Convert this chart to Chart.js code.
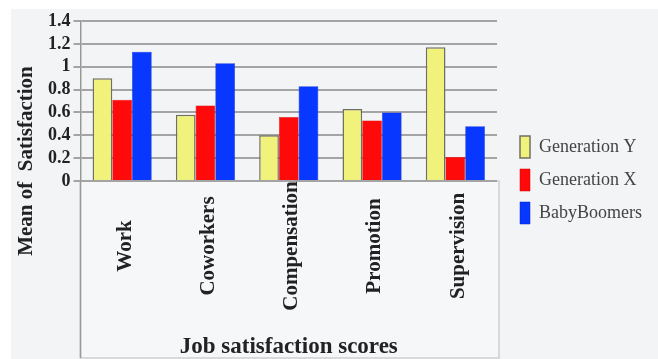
<!DOCTYPE html>
<html>
<head>
<meta charset="utf-8">
<script src="https://cdn.jsdelivr.net/npm/chart.js@4/dist/chart.umd.min.js"></script>
<style>
  html, body { margin: 0; padding: 0; background: #fff; }
  #wrap { width: 658px; height: 359px; }
</style>
</head>
<body>
<div id="wrap"><canvas id="chart" width="658" height="359"></canvas></div>
<script>
const categories = ['Work', 'Coworkers', 'Compensation', 'Promotion', 'Supervision'];
const generationY = [0.90, 0.58, 0.40, 0.63, 1.17];
const generationX = [0.71, 0.66, 0.56, 0.53, 0.21];
const babyBoomers = [1.13, 1.03, 0.83, 0.60, 0.48];
const yTicks = [0, 0.2, 0.4, 0.6, 0.8, 1, 1.2, 1.4];

const serif = '"Liberation Serif", "Times New Roman", serif';

// grey panel, the box under the plot, the y title and the centred category labels
const extras = {
  id: 'extras',
  beforeDraw(chart) {
    const { ctx, chartArea } = chart;
    ctx.save();
    ctx.fillStyle = '#f3f4f6';
    ctx.fillRect(11, 9, 647, 350);
    ctx.fillStyle = '#f6f7f9';
    ctx.fillRect(chartArea.left, chartArea.bottom, chartArea.right + 2 - chartArea.left, 358 - chartArea.bottom);
    ctx.strokeStyle = '#cfcfcf';
    ctx.lineWidth = 1.5;
    ctx.strokeRect(chartArea.left, chartArea.bottom, chartArea.right + 2 - chartArea.left, 358 - chartArea.bottom);
    ctx.strokeStyle = '#999';
    ctx.beginPath();
    ctx.moveTo(chartArea.left, chartArea.bottom);
    ctx.lineTo(chartArea.left, 358);
    ctx.stroke();
    ctx.restore();
  },
  afterDraw(chart) {
    const { ctx } = chart;
    const x = chart.scales.x;
    ctx.save();
    ctx.fillStyle = '#222';
    ctx.textAlign = 'center';
    ctx.textBaseline = 'middle';
    ctx.font = 'bold 21px ' + serif;
    categories.forEach((c, i) => {
      ctx.save();
      ctx.translate(x.getPixelForTick(i) + 3, 246);
      ctx.rotate(-Math.PI / 2);
      ctx.fillText(c, 0, 0);
      ctx.restore();
    });
    ctx.translate(27, 161);
    ctx.rotate(-Math.PI / 2);
    ctx.font = 'bold 21px ' + serif;
    ctx.fillText('Mean of  Satisfaction', 0, 0);
    ctx.restore();
  }
};

new Chart(document.getElementById('chart'), {
  type: 'bar',
  data: {
    labels: categories,
    datasets: [
      { label: 'Generation Y', data: generationY, backgroundColor: '#f0f27c', borderColor: '#707062', borderWidth: 1.5 },
      { label: 'Generation X', data: generationX, backgroundColor: '#ff0a0a', borderColor: '#d00000', borderWidth: 0.5 },
      { label: 'BabyBoomers', data: babyBoomers, backgroundColor: '#0838ff', borderColor: '#0024c0', borderWidth: 0.5 }
    ]
  },
  options: {
    responsive: false,
    animation: false,
    layout: { padding: { left: 45, top: 21, right: 6, bottom: 20 } },
    datasets: { bar: { categoryPercentage: 0.71, barPercentage: 1.0 } },
    plugins: {
      legend: {
        position: 'right',
        maxWidth: 170,
        labels: {
          boxWidth: 10,
          boxHeight: 22,
          padding: 11,
          color: '#444',
          font: { family: serif, size: 18 }
        }
      },
      tooltip: { enabled: false }
    },
    scales: {
      x: {
        grid: { display: false },
        border: { display: false },
        ticks: { display: false },
        afterFit(axis) { axis.height = 158; },
        title: {
          display: true,
          text: 'Job satisfaction scores',
          color: '#222',
          padding: { top: 0, bottom: -22 },
          font: { family: serif, size: 23, weight: 'bold' }
        }
      },
      y: {
        min: 0,
        max: 1.4,
        afterBuildTicks(axis) { axis.ticks = yTicks.map(v => ({ value: v })); },
        grid: { color: '#a4a4a4', lineWidth: 2, tickLength: 7 },
        border: { color: '#999', width: 1.5 },
        ticks: {
          autoSkip: false,
          padding: 3,
          color: '#222',
          font: { family: serif, size: 18, weight: 'bold' },
          callback: v => (v === 0 || v === 1) ? String(v) : v.toFixed(1)
        }
      },
      pad: {
        type: 'linear',
        position: 'right',
        grid: { display: false },
        border: { display: false },
        ticks: { display: false },
        afterFit(axis) { axis.width = 12; }
      }
    }
  },
  plugins: [extras]
});
</script>
</body>
</html>
